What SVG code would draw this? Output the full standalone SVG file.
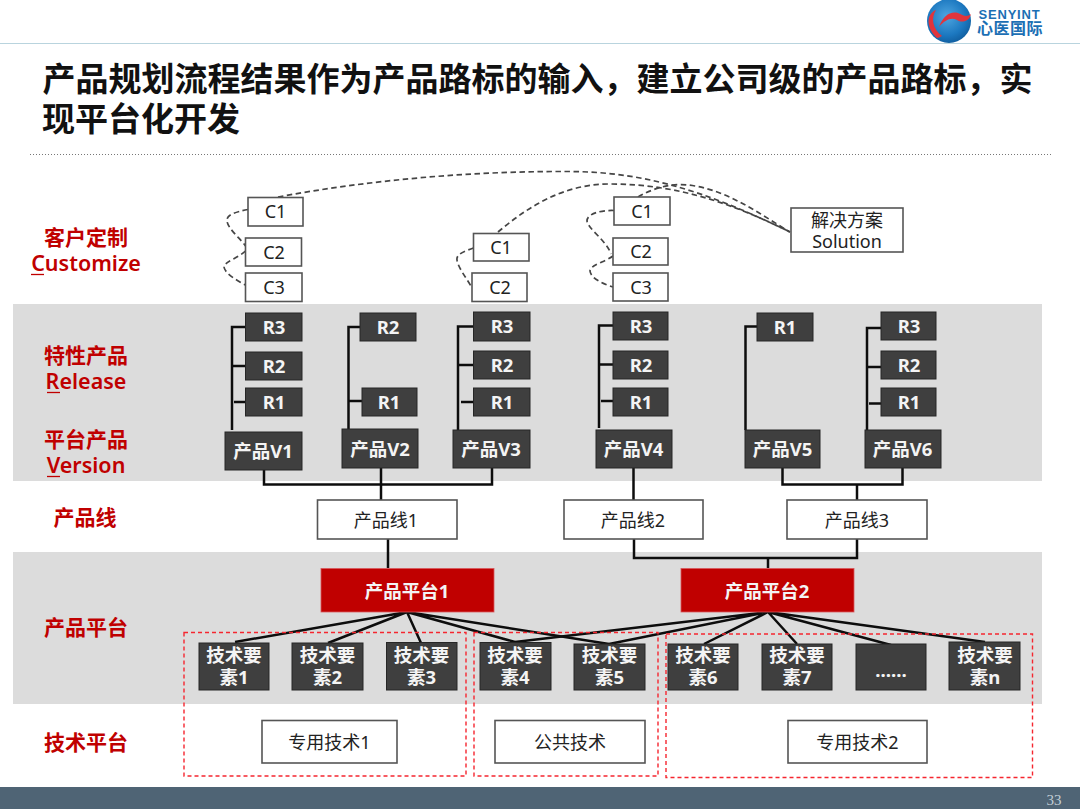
<svg xmlns="http://www.w3.org/2000/svg" width="1080" height="810" viewBox="0 0 1080 810">
<style>
text{font-family:"Noto Sans","Noto Sans CJK SC",sans-serif;text-anchor:middle}
.band{fill:#dcdcdc}
.w{fill:#fff;stroke:#555;stroke-width:1.6}
.d{fill:#3f3f3f;stroke:#262626;stroke-width:1}
.r{fill:#c00000;stroke:#d9575c;stroke-width:.8}
.tw{font-size:18px;fill:#222}
.tb{font-size:18.5px;font-weight:700;fill:#f4f4f4}
.lab{font-size:21px;font-weight:700;fill:#c00000}
.en{font-size:21.5px;font-weight:600}
.ul{stroke:#c00000;stroke-width:1.3}
.con{fill:none;stroke:#0d0d0d;stroke-width:2.5}
.dash{fill:none;stroke:#454545;stroke-width:1.7;stroke-dasharray:5.500 3.500}
.zone{fill:none;stroke:#f5262f;stroke-width:1.4;stroke-dasharray:4 3}
</style>
<defs>
<radialGradient id="globe" cx="45%" cy="40%" r="65%">
<stop offset="0" stop-color="#4fa6e0"/><stop offset=".65" stop-color="#1c78c0"/><stop offset="1" stop-color="#0f5a9a"/>
</radialGradient>
</defs>
<rect width="1080" height="810" fill="#fff"/>

<!-- header -->
<g id="logo">
<circle cx="949" cy="21" r="22" fill="url(#globe)"/>
<path d="M937,38C926,28 926,14 936,10C931,18 932,28 942,36C940,37 938,38 937,38Z" fill="#e0343c"/>
<path d="M939,27C943,16 950,11 958,13C963,15 966,18 971,14C969,22 962,23 957,20C951,17 945,20 939,27Z" fill="#e0343c"/>
<text x="1009.500" y="19" style="font-size:13px;font-weight:700;fill:#1c6fb4;letter-spacing:.8px;font-family:'Liberation Sans',sans-serif">SENYINT</text>
<text x="1010" y="34" style="font-size:16px;font-weight:700;fill:#1c6fb4;letter-spacing:.5px;font-family:'Noto Sans CJK SC',sans-serif">心医国际</text>
</g>
<line x1="0" y1="43.500" x2="1080" y2="43.500" stroke="#b9d4de" stroke-width="1.2"/>
<text x="537.500" y="91" style="font-size:33px;font-weight:700;fill:#111;font-family:'Noto Sans CJK SC',sans-serif">产品规划流程结果作为产品路标的输入，建立公司级的产品路标，实</text>
<text x="42" y="131" style="font-size:33px;font-weight:700;fill:#111;text-anchor:start;font-family:'Noto Sans CJK SC',sans-serif">现平台化开发</text>
<line x1="30" y1="154.500" x2="1051" y2="154.500" stroke="#777" stroke-width="1" stroke-dasharray="1 2"/>

<!-- background bands -->
<rect class="band" x="13" y="304" width="1029" height="177"/>
<rect class="band" x="13" y="552" width="1029" height="152"/>

<!-- row labels -->
<g id="row-customize">
<text class="lab" x="86" y="245">客户定制</text>
<text class="lab en" x="86" y="270.500">Customize</text>
<line class="ul" x1="31" y1="274.500" x2="44" y2="274.500"/>
</g>
<g id="row-release">
<text class="lab" x="86" y="363">特性产品</text>
<text class="lab en" x="86" y="388.500">Release</text>
<line class="ul" x1="47" y1="392.500" x2="60" y2="392.500"/>
</g>
<g id="row-version">
<text class="lab" x="86" y="447">平台产品</text>
<text class="lab en" x="86" y="472.500">Version</text>
<line class="ul" x1="47" y1="476.500" x2="60" y2="476.500"/>
</g>
<g id="row-line"><text class="lab" x="85" y="525">产品线</text></g>
<g id="row-platform"><text class="lab" x="86" y="635">产品平台</text></g>
<g id="row-tech"><text class="lab" x="86" y="750">技术平台</text></g>

<!-- connectors -->
<g id="connectors">
<path class="dash" d="M278,197C370,180 470,171 570,171.500C640,172 700,188 790,232"/>
<path class="dash" d="M498,232C530,205 565,184 610,184C680,184 735,205 790,232"/>
<path class="dash" d="M638,197C655,187 675,182 695,186C730,192 760,214 790,232"/>
<path class="dash" d="M248,209.500C235,212 226,215 227,221C228,229 240,238 245.500,246"/>
<path class="dash" d="M245.500,251C238,258 224,262 224,267C225,274 238,281 245.500,285"/>
<path class="dash" d="M473.500,248C465,251 456,254 457,260C458,268 468,280 472,288"/>
<path class="dash" d="M614,210.500C600,210 587,214 587,221C588,229 606,240 611,254"/>
<path class="dash" d="M613,256C605,262 590,265 590,271C591,279 604,284 613,287"/>

<path class="con" d="M232,430V327H246M233,366H246M234,402H246"/>
<path class="con" d="M348.500,431V327H360M349,401H362"/>
<path class="con" d="M458,430V326.500H474M458,365H474M461,402H474"/>
<path class="con" d="M599,428V325.500H613M600,364.500H613M601,401H613"/>
<path class="con" d="M745.500,430V326.500H758"/>
<path class="con" d="M867,430V328H881M867,367H881M869,403.500H881"/>

<path class="con" d="M264,470V484.500H492V468"/>
<path class="con" d="M381,468V500"/>
<path class="con" d="M633.500,468V500"/>
<path class="con" d="M782.500,468V484.500H902.500V468"/>
<path class="con" d="M857,484.500V500"/>
<path class="con" d="M388,539V568"/>
<path class="con" d="M634,539V558H857V539"/>
<path class="con" d="M768,558V568"/>

<path class="con" d="M407,612L235,642M407,612L328,643M407,612L421,643M407,612L515,642M407,612L609,644"/>
<path class="con" d="M768,612L515,642M768,612L609,644M768,612L704,644M768,612L797,644M768,612L891,645M768,612L985,642"/>
</g>

<!-- technology zones -->
<rect class="zone" x="184" y="632.500" width="282" height="143.500"/>
<rect class="zone" x="474" y="632.500" width="184" height="143.500"/>
<rect class="zone" x="666" y="634" width="366.500" height="143.500"/>

<!-- customer versions -->
<g id="c1a"><rect class="w" x="248" y="197.500" width="55" height="28.500"/><text class="tw" x="275.500" y="218">C1</text></g>
<g id="c2a"><rect class="w" x="245.500" y="238" width="56" height="28"/><text class="tw" x="274" y="259">C2</text></g>
<g id="c3a"><rect class="w" x="245.500" y="273" width="56.500" height="28.500"/><text class="tw" x="274" y="294">C3</text></g>
<g id="c1b"><rect class="w" x="473.500" y="233.500" width="55.500" height="27.500"/><text class="tw" x="501" y="254">C1</text></g>
<g id="c2b"><rect class="w" x="472" y="273" width="55" height="28.500"/><text class="tw" x="500" y="294">C2</text></g>
<g id="c1c"><rect class="w" x="614" y="197" width="56" height="28"/><text class="tw" x="642" y="218">C1</text></g>
<g id="c2c"><rect class="w" x="613" y="238" width="55" height="27"/><text class="tw" x="641" y="258">C2</text></g>
<g id="c3c"><rect class="w" x="613" y="273" width="55" height="28"/><text class="tw" x="641" y="294">C3</text></g>
<g id="solution"><rect class="w" x="791" y="208" width="112" height="44"/><text class="tw" x="847" y="227">解决方案</text><text class="tw" x="847" y="248">Solution</text></g>

<!-- releases -->
<g id="r3a"><rect class="d" x="245.500" y="313" width="56.500" height="28"/><text class="tb" x="274" y="334">R3</text></g>
<g id="r2a"><rect class="d" x="245.500" y="352" width="56.500" height="28"/><text class="tb" x="274" y="373">R2</text></g>
<g id="r1a"><rect class="d" x="245.500" y="388" width="56.500" height="28"/><text class="tb" x="274" y="409">R1</text></g>
<g id="r2b"><rect class="d" x="360" y="313" width="56" height="28"/><text class="tb" x="388" y="334">R2</text></g>
<g id="r1b"><rect class="d" x="362" y="388" width="55" height="28"/><text class="tb" x="389" y="409">R1</text></g>
<g id="r3c"><rect class="d" x="473.500" y="312" width="56.500" height="29"/><text class="tb" x="502" y="333">R3</text></g>
<g id="r2c"><rect class="d" x="473.500" y="351" width="56.500" height="28"/><text class="tb" x="502" y="372">R2</text></g>
<g id="r1c"><rect class="d" x="473.500" y="388" width="56.500" height="28"/><text class="tb" x="502" y="409">R1</text></g>
<g id="r3d"><rect class="d" x="613" y="312" width="55" height="28"/><text class="tb" x="641" y="333">R3</text></g>
<g id="r2d"><rect class="d" x="613" y="351" width="55" height="28"/><text class="tb" x="641" y="372">R2</text></g>
<g id="r1d"><rect class="d" x="613" y="388" width="55" height="28"/><text class="tb" x="641" y="409">R1</text></g>
<g id="r1e"><rect class="d" x="757" y="313" width="56" height="28"/><text class="tb" x="785" y="334">R1</text></g>
<g id="r3f"><rect class="d" x="881" y="312" width="55" height="28"/><text class="tb" x="909" y="333">R3</text></g>
<g id="r2f"><rect class="d" x="881" y="351" width="55" height="28"/><text class="tb" x="909" y="372">R2</text></g>
<g id="r1f"><rect class="d" x="881" y="388" width="55" height="28"/><text class="tb" x="909" y="409">R1</text></g>

<!-- platform versions -->
<g id="v1"><rect class="d" x="225" y="432" width="77" height="38"/><text class="tb" x="263" y="458">产品V1</text></g>
<g id="v2"><rect class="d" x="342" y="429" width="76" height="39"/><text class="tb" x="380" y="456">产品V2</text></g>
<g id="v3"><rect class="d" x="453" y="430" width="77" height="38"/><text class="tb" x="491" y="456">产品V3</text></g>
<g id="v4"><rect class="d" x="596" y="430" width="76" height="38"/><text class="tb" x="633.500" y="456">产品V4</text></g>
<g id="v5"><rect class="d" x="745" y="430" width="75" height="38"/><text class="tb" x="782.500" y="456">产品V5</text></g>
<g id="v6"><rect class="d" x="865" y="430" width="76" height="38"/><text class="tb" x="902.500" y="456">产品V6</text></g>

<!-- product lines -->
<g id="line1"><rect class="w" x="317.500" y="500" width="139.500" height="39"/><text class="tw" x="386" y="527">产品线1</text></g>
<g id="line2"><rect class="w" x="564" y="500" width="139" height="39"/><text class="tw" x="633" y="527">产品线2</text></g>
<g id="line3"><rect class="w" x="787" y="500" width="140" height="39"/><text class="tw" x="857" y="527">产品线3</text></g>

<!-- platforms -->
<g id="platform1"><rect class="r" x="321" y="568.500" width="173" height="43.500"/><text class="tb" x="407" y="598">产品平台1</text></g>
<g id="platform2"><rect class="r" x="681" y="568.500" width="173" height="43.500"/><text class="tb" x="767" y="598">产品平台2</text></g>

<!-- technology elements -->
<g id="t1"><rect class="d" x="199" y="643" width="70" height="47"/><text class="tb" x="234" y="662">技术要</text><text class="tb" x="234" y="684">素1</text></g>
<g id="t2"><rect class="d" x="292" y="643" width="71" height="47"/><text class="tb" x="327.500" y="662">技术要</text><text class="tb" x="327.500" y="684">素2</text></g>
<g id="t3"><rect class="d" x="386.500" y="642.500" width="70.500" height="47.500"/><text class="tb" x="421.500" y="662">技术要</text><text class="tb" x="421.500" y="684">素3</text></g>
<g id="t4"><rect class="d" x="480" y="642.500" width="71" height="47.500"/><text class="tb" x="515" y="662">技术要</text><text class="tb" x="515" y="684">素4</text></g>
<g id="t5"><rect class="d" x="574" y="644" width="71" height="46"/><text class="tb" x="609.500" y="662">技术要</text><text class="tb" x="609.500" y="684">素5</text></g>
<g id="t6"><rect class="d" x="668" y="644" width="70" height="46"/><text class="tb" x="703" y="662">技术要</text><text class="tb" x="703" y="684">素6</text></g>
<g id="t7"><rect class="d" x="762" y="644" width="70" height="46"/><text class="tb" x="797" y="662">技术要</text><text class="tb" x="797" y="684">素7</text></g>
<g id="t8"><rect class="d" x="856" y="644" width="70" height="46"/><text class="tb" x="891" y="677">……</text></g>
<g id="tn"><rect class="d" x="949" y="642" width="71" height="48"/><text class="tb" x="985" y="662">技术要</text><text class="tb" x="985" y="684">素n</text></g>

<!-- technology platforms -->
<g id="tech1"><rect class="w" x="262" y="720.500" width="135" height="42.500"/><text class="tw" x="329.500" y="749">专用技术1</text></g>
<g id="techc"><rect class="w" x="495" y="720.500" width="150" height="42.500"/><text class="tw" x="570" y="749">公共技术</text></g>
<g id="tech2"><rect class="w" x="788" y="720.500" width="139" height="42.500"/><text class="tw" x="857.500" y="749">专用技术2</text></g>

<!-- footer -->
<rect x="0" y="787" width="1080" height="22" fill="#4f6475"/>
<text x="1054" y="805" style="font-size:15px;fill:#c3ced6;font-family:'Liberation Serif',serif">33</text>
</svg>
